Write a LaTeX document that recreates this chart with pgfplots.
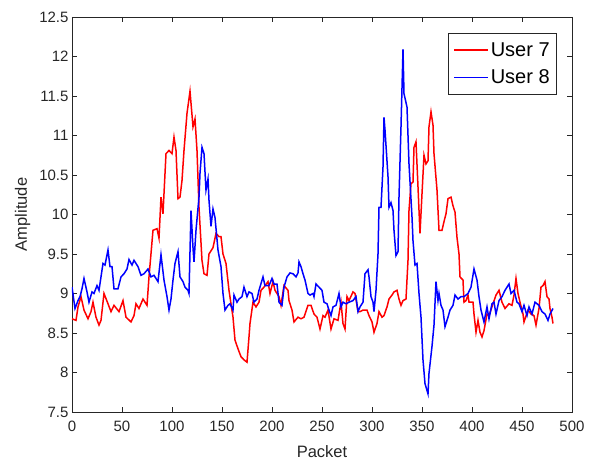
\documentclass[border=0pt]{standalone}
\usepackage{fontspec}
\setmainfont{Liberation Sans}
\usepackage{pgfplots}
\pgfplotsset{compat=1.18}
\definecolor{axgray}{rgb}{0.15,0.15,0.15}
\begin{document}
\begin{tikzpicture}
\begin{axis}[
  scale only axis,
  width=500pt, height=395pt,
  xmin=0, xmax=500, ymin=7.5, ymax=12.5,
  xtick={0,50,...,500},
  ytick={7.5,8,8.5,9,9.5,10,10.5,11,11.5,12,12.5},
  yticklabels={7.5,8,8.5,9,9.5,10,10.5,11,11.5,12,12.5},
  /pgf/number format/assume math mode=true,
  tick align=inside,
  major tick length=5pt,
  axis line style={axgray, line width=0.6pt},
  every tick/.style={axgray, line width=0.6pt},
  tick label style={font=\fontsize{15}{17}\selectfont, text=axgray},
  xticklabel style={yshift=-6pt},
  xlabel={Packet}, ylabel={Amplitude},
  label style={font=\fontsize{16.5}{19}\selectfont, text=axgray},
  xlabel style={at={(axis description cs:0.5,0)}, anchor=center, yshift=-40pt},
  ylabel style={at={(axis description cs:0,0.5)}, anchor=center, yshift=49.5pt},
  legend style={at={(axis description cs:0.97,0.9595)}, anchor=north east,
    font=\fontsize{20}{22}\selectfont, draw=axgray, line width=0.6pt,
    row sep=8pt, inner xsep=5pt, inner ysep=7pt},
  legend cell align=left,
  legend image code/.code={\draw[#1, line width=1.5pt] (0pt,0pt) -- (34pt,0pt);},
]
\addplot[red, line width=1.5pt] coordinates {
(0,8.68)(4,8.66)(6,8.83)(9,8.96)(12,8.79)(16,8.68)(19,8.77)(21,8.89)(24,8.70)(27,8.60)(29,8.66)(32,9.00)(36,8.87)(39,8.77)(42,8.85)(47,8.77)(51,8.91)(54,8.70)(59,8.64)(62,8.72)(64,8.87)(67,8.81)(71,8.93)(75,8.85)(77,9.21)(81,9.80)(85,9.82)(87,9.70)(89,10.22)(91,10.01)(94,10.77)(97,10.81)(100,10.77)(102,10.98)(104,10.81)(106,10.20)(108,10.22)(110,10.43)(112,10.81)(115,11.28)(118,11.56)(121,11.11)(123,11.21)(125,10.81)(127,10.09)(130,9.42)(132,9.25)(135,9.23)(137,9.50)(141,9.58)(144,9.76)(147,9.72)(149,9.72)(151,9.50)(154,9.38)(157,9.04)(161,8.70)(163,8.41)(166,8.30)(169,8.20)(172,8.16)(175,8.13)(177,8.45)(178,8.62)(181,8.89)(184,8.83)(187,8.89)(189,9.04)(192,9.08)(196,9.15)(198,9.00)(201,9.15)(203,9.04)(207,8.96)(209,8.85)(212,9.10)(216,9.04)(217,8.91)(220,8.79)(222,8.64)(226,8.70)(229,8.68)(232,8.70)(236,8.85)(239,8.85)(242,8.74)(245,8.70)(248,8.55)(251,8.72)(253,8.70)(256,8.79)(259,8.55)(262,8.68)(266,8.66)(269,8.89)(271,8.62)(273,8.55)(275,8.96)(277,8.91)(281,9.02)(283,9.00)(286,8.77)(288,8.77)(291,8.79)(295,8.79)(297,8.72)(300,8.64)(302,8.51)(305,8.62)(307,8.77)(310,8.70)(312,8.72)(315,8.83)(317,8.93)(320,8.98)(322,9.02)(325,9.04)(327,8.93)(329,8.85)(331,8.91)(334,8.93)(336,9.42)(337,10.05)(339,10.39)(341,10.41)(342,10.85)(344,10.92)(346,10.35)(348,9.76)(350,10.26)(352,10.75)(354,10.64)(356,10.68)(357,11.11)(359,11.30)(361,11.13)(362,10.77)(365,10.31)(367,9.80)(370,9.80)(372,9.91)(374,10.01)(376,10.20)(379,10.22)(381,10.11)(383,10.03)(385,9.71)(387,9.50)(388,9.21)(391,9.17)(392,8.89)(394,8.91)(396,8.98)(397,8.89)(401,8.89)(402,8.74)(404,8.51)(406,8.66)(408,8.51)(410,8.45)(412,8.53)(415,8.74)(417,8.72)(421,8.87)(424,8.98)(427,9.04)(430,8.89)(433,8.81)(437,8.87)(440,8.85)(442,8.98)(444,9.19)(446,9.00)(448,8.89)(451,8.74)(452,8.64)(456,8.79)(459,8.74)(462,8.72)(464,8.60)(467,8.81)(469,9.08)(471,9.10)(473,9.15)(475,8.96)(477,8.93)(478,8.81)(480,8.70)(481,8.62)
};
\addlegendentry{User 7}
\addplot[blue, line width=1.5pt] coordinates {
(0,9.08)(3,8.81)(6,8.91)(8,8.96)(10,9.06)(12,9.19)(15,9.02)(17,8.89)(20,9.02)(22,9.00)(25,9.10)(27,9.04)(29,9.21)(31,9.38)(33,9.36)(36,9.55)(38,9.34)(40,9.34)(42,9.06)(46,9.06)(49,9.21)(52,9.25)(55,9.31)(57,9.43)(60,9.36)(62,9.42)(66,9.34)(69,9.23)(72,9.25)(76,9.31)(79,9.21)(82,9.23)(86,9.15)(89,9.49)(92,9.17)(95,8.96)(97,8.79)(99,8.93)(101,9.17)(103,9.38)(106,9.53)(108,9.21)(111,9.15)(113,9.08)(116,9.04)(117,9.00)(119,10.05)(121,9.58)(122,9.40)(124,9.80)(127,10.22)(128,10.52)(130,10.85)(132,10.77)(134,10.31)(136,10.45)(137,10.18)(139,9.85)(141,10.07)(143,9.96)(146,9.55)(149,9.34)(151,9.00)(153,8.79)(156,8.85)(158,8.87)(161,8.79)(162,8.98)(165,8.89)(167,8.93)(170,8.96)(172,9.08)(175,8.96)(177,9.02)(180,9.00)(182,8.89)(185,8.93)(187,9.04)(191,9.21)(193,9.10)(197,9.10)(200,9.19)(202,9.12)(205,9.12)(207,8.89)(210,8.85)(212,9.08)(215,9.21)(218,9.26)(221,9.25)(224,9.21)(226,9.26)(227,9.40)(229,9.34)(231,9.25)(233,9.17)(236,9.00)(238,8.98)(241,9.00)(242,8.96)(244,9.12)(247,9.08)(250,9.04)(252,8.89)(255,8.87)(257,8.79)(259,8.72)(261,8.83)(264,8.85)(267,9.00)(269,8.83)(271,8.89)(274,8.87)(277,8.89)(281,8.91)(284,8.96)(286,8.77)(288,8.83)(291,8.89)(293,9.25)(296,9.30)(297,9.21)(299,8.96)(301,8.89)(302,8.77)(304,9.04)(306,9.50)(307,10.09)(309,10.09)(311,10.60)(312,11.23)(313,11.07)(316,10.48)(317,10.09)(319,10.15)(321,10.05)(322,9.80)(324,9.48)(326,9.53)(327,10.22)(329,11.11)(331,12.09)(332,11.53)(335,11.36)(337,10.64)(340,9.97)(341,9.67)(343,9.36)(345,9.38)(347,9.00)(349,8.70)(351,8.16)(353,7.86)(356,7.73)(357,7.99)(360,8.33)(362,8.60)(364,9.15)(366,8.91)(367,9.00)(369,8.85)(371,8.79)(373,8.58)(376,8.70)(378,8.79)(381,8.85)(383,8.98)(386,8.93)(389,8.96)(392,8.96)(396,9.00)(399,9.08)(402,9.31)(405,9.17)(407,8.96)(409,8.79)(412,8.64)(415,8.83)(417,8.68)(420,8.87)(422,8.89)(424,8.74)(427,8.91)(430,8.96)(433,9.04)(437,9.12)(439,9.00)(442,9.04)(445,8.89)(447,8.87)(450,8.77)(452,8.85)(455,8.72)(457,8.83)(460,8.74)(463,8.89)(467,8.85)(470,8.77)(473,8.74)(476,8.66)(478,8.74)(481,8.81)
};
\addlegendentry{User 8}
\end{axis}
\pgfresetboundingbox
\path ([xshift=-72pt,yshift=-49pt]current axis.south west) rectangle ([xshift=23pt,yshift=17pt]current axis.north east);
\end{tikzpicture}
\end{document}
